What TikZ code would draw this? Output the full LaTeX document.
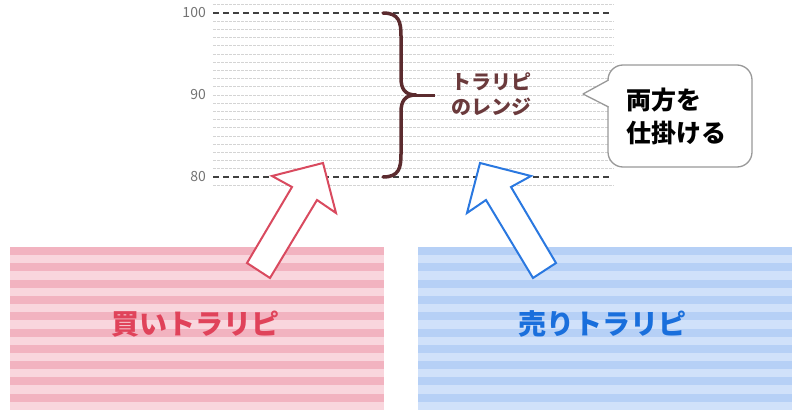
\documentclass[tikz,border=0pt]{standalone}
\usepackage{fontspec}
\newfontfamily\jp{Noto Sans CJK JP}
\definecolor{pinkD}{HTML}{F2B3C0}
\definecolor{pinkL}{HTML}{F9D6DD}
\definecolor{blueD}{HTML}{B6D0F6}
\definecolor{blueL}{HTML}{D0E1FA}
\definecolor{redT}{HTML}{E0435A}
\definecolor{blueT}{HTML}{1A6FDC}
\definecolor{redA}{HTML}{D94A5F}
\definecolor{blueA}{HTML}{2A78E0}
\definecolor{braceC}{HTML}{5B2B2E}
\definecolor{rangeT}{HTML}{6B3A3C}
\tikzset{
  numlbl/.style={font=\jp\fontsize{14}{14}\selectfont, text=black!55, anchor=east, inner sep=0},
  bigtxt/.style={font=\jp\bfseries\fontsize{28}{28}\selectfont, inner sep=0},
  majorline/.style={draw=black!75, line width=1.2pt, dash pattern=on 6pt off 4pt},
  minorline/.style={draw=black!17, line width=0.8pt, dash pattern=on 2.5pt off 1.5pt},
  blockarrow/.style={fill=white, line width=2pt, line join=miter},
}
\begin{document}
\begin{tikzpicture}[x=1pt,y=-1pt]
\useasboundingbox (0,0) rectangle (800,415);
% striped boxes
\fill[pinkL] (10,247) rectangle (384,410);
\foreach \i in {0,...,9} \fill[pinkD] (10,247+16.3*\i) rectangle (384,255+16.3*\i);
\fill[blueL] (418,247) rectangle (792,410);
\foreach \i in {0,...,9} \fill[blueD] (418,247+16.3*\i) rectangle (792,255+16.3*\i);
% minor grid lines
\foreach \v in {101,99,98,97,96,95,94,93,92,91,90,89,88,87,86,85,84,83,82,81,79}
  \draw[minorline] (213,{13+(100-\v)*8.2}) -- (614,{13+(100-\v)*8.2});
% major lines
\draw[majorline] (213,13) -- (612,13);
\draw[majorline] (213,177) -- (612,177);
% axis labels
\node[numlbl] (n100) at (206,13) {100};
\node[numlbl] (n90) at (206,95) {90};
\node[numlbl] (n80) at (206,177) {80};
% brace
\draw[braceC, line width=3.5pt, line cap=round, line join=round]
  (383,13) .. controls (399,13) and (401,22) .. (401,36) -- (401,78)
  .. controls (401,89) and (405,95) .. (416,95)
  .. controls (405,95) and (401,101) .. (401,112) -- (401,154)
  .. controls (401,168) and (399,177) .. (383,177);
\draw[braceC, line width=3pt] (410,95) -- (435,95);
% range text
\node[font=\jp\bfseries\fontsize{20}{25}\selectfont, text=rangeT, align=center, inner sep=0] (range) at (491,94.5) {トラリピ\\のレンジ};
% speech bubble
\draw[draw=black!40, fill=white, line width=1.3pt, rounded corners=15pt]
  (608,80) -- (608,65) -- (752,65) -- (752,167) -- (608,167) -- (608,107);
\draw[draw=black!40, fill=white, line width=1.3pt, line join=round]
  (608.6,80) -- (583,94) -- (608.6,107);
\fill[white] (609.3,79) rectangle (615,108);
\node[font=\jp\bfseries\fontsize{25}{33}\selectfont, align=left, anchor=west, inner sep=0] (both) at (626,116.5) {両方を\\仕掛ける};
% block arrows
\draw[blockarrow, draw=redA] (323,163) -- (336,213) -- (317,200) -- (270,278) -- (247,263) -- (292,187) -- (272,176) -- cycle;
\draw[blockarrow, draw=blueA] (480,163) -- (467,213) -- (486,200) -- (533,278) -- (556,263) -- (511,187) -- (531,176) -- cycle;
% labels in boxes
\node[bigtxt, text=redT] (buy) at (195,324) {買いトラリピ};
\node[bigtxt, text=blueT] (sell) at (602,324) {売りトラリピ};
\end{tikzpicture}
\end{document}
